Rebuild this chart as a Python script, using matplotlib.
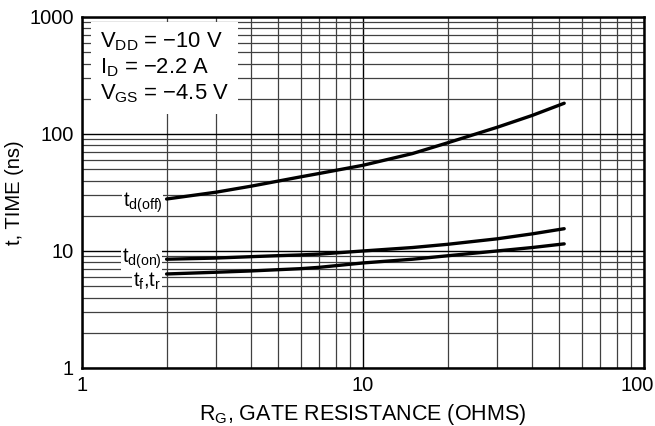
import numpy as np
import matplotlib
matplotlib.use("Agg")
import matplotlib.pyplot as plt
import matplotlib.transforms as mtransforms
from matplotlib.ticker import LogLocator, NullFormatter, FixedLocator, FixedFormatter

plt.rcParams["font.family"] = ["Liberation Sans", "DejaVu Sans"]
plt.rcParams["mathtext.fontset"] = "custom"
plt.rcParams["mathtext.rm"] = "Liberation Sans"
plt.rcParams["mathtext.it"] = "Liberation Sans"
plt.rcParams["mathtext.bf"] = "Liberation Sans"

# ---- data ------------------------------------------------------------
rg_ohms = [2, 3, 4, 5, 6, 7, 10, 15, 20, 30, 40, 52]
td_off = [27.8, 31.8, 35.8, 39.6, 43.0, 46.0, 54.0, 68.0, 84.0, 114.0, 144.0, 183.0]
td_on = [8.5, 8.7, 8.94, 9.12, 9.25, 9.4, 10.0, 10.7, 11.4, 12.7, 14.0, 15.5]
tf_tr = [6.36, 6.58, 6.75, 6.92, 7.06, 7.25, 7.9, 8.5, 9.1, 10.0, 10.7, 11.5]

x_ticks = [1, 10, 100]
x_ticklabels = ["1", "10", "100"]
y_ticks = [1, 10, 100, 1000]
y_ticklabels = ["1", "10", "100", "1000"]

cond_lines = ["V$_{\\mathregular{DD}}$ = \u221210 V",
              "I$_{\\mathregular{D}}$ = \u22122.2 A",
              "V$_{\\mathregular{GS}}$ = \u22124.5 V"]

# ---- figure ------------------------------------------------------------
fig = plt.figure(figsize=(6.55, 4.26), dpi=100)
ax = fig.add_axes([0.1252, 0.1362, 0.858, 0.824])
ax.set_xscale("log")
ax.set_yscale("log")
ax.set_xlim(1, 100)
ax.set_ylim(1, 1000)

ax.xaxis.set_major_locator(FixedLocator(x_ticks))
ax.xaxis.set_major_formatter(FixedFormatter(x_ticklabels))
ax.yaxis.set_major_locator(FixedLocator(y_ticks))
ax.yaxis.set_major_formatter(FixedFormatter(y_ticklabels))
for axis in (ax.xaxis, ax.yaxis):
    axis.set_minor_locator(LogLocator(base=10, subs=np.arange(2, 10)))
    axis.set_minor_formatter(NullFormatter())
ax.tick_params(which="both", length=0, labelsize=14.5, pad=6)

# the "100" label sits a bit left of the axis end in the original
fig.canvas.draw()
last = ax.get_xticklabels()[-1]
last.set_transform(last.get_transform() +
                   mtransforms.ScaledTranslation(-7 / 100, 0, fig.dpi_scale_trans))

ax.grid(which="major", color="black", linewidth=1.0, zorder=0)
ax.grid(which="minor", color="0.25", linewidth=0.9, zorder=0)
for s in ax.spines.values():
    s.set_linewidth(1.8)
    s.set_zorder(5)

for ys in (td_off, td_on, tf_tr):
    ax.plot(rg_ohms, ys, color="black", linewidth=2.4, solid_capstyle="round", zorder=4)

# condition box
ax.text(0.032, 0.962, "\n".join(cond_lines), transform=ax.transAxes,
        fontsize=15.8, linespacing=1.2, ha="left", va="top", zorder=3,
        bbox=dict(boxstyle="square,pad=0.4", facecolor="white", edgecolor="none"))

# curve labels
lab_bbox = dict(boxstyle="square,pad=0.03", facecolor="white", edgecolor="none")
ax.text(1.94, 26.0, "t$_{\\mathregular{d(off)}}$", fontsize=14.5, ha="right", va="center",
        zorder=3, bbox=lab_bbox)
ax.text(1.92, 8.6, "t$_{\\mathregular{d(on)}}$", fontsize=14.5, ha="right", va="center",
        zorder=3, bbox=lab_bbox)
ax.text(1.91, 5.55, "t$_{\\mathregular{f}}$,t$_{\\mathregular{r}}$", fontsize=14.5, ha="right",
        va="center", zorder=3, bbox=lab_bbox)

ax.set_xlabel("R$_{\\mathregular{G}}$, GATE RESISTANCE (OHMS)", fontsize=15.5, labelpad=5)
ax.set_ylabel("t, TIME (ns)", fontsize=14.5, labelpad=4)

fig.savefig("out.png", dpi=100)
